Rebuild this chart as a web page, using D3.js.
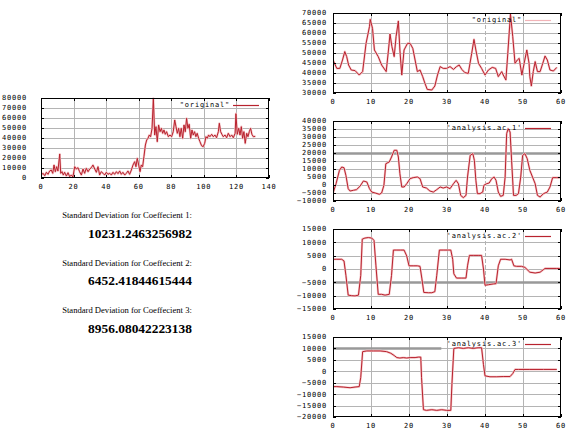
<!DOCTYPE html>
<html>
<head>
<meta charset="utf-8">
<script src="https://cdn.jsdelivr.net/npm/d3@7/dist/d3.min.js"></script>
<style>
  html, body { margin: 0; padding: 0; background: #fff; }
  svg { display: block; }
  .lbl { font-family: "DejaVu Sans Mono", "Liberation Mono", monospace; font-size: 7px; letter-spacing: 0.8px; fill: #000; }
  .sd-label { font-family: "Liberation Serif", "Times New Roman", serif; font-size: 8.6px; fill: #000; }
  .sd-value { font-family: "Liberation Serif", "Times New Roman", serif; font-size: 13.4px; font-weight: bold; fill: #000; }
</style>
</head>
<body>
<svg id="chart" width="566" height="430"></svg>
<script>
// ---- full series ("original", left) ----
const originalX = [0.2, 1.2, 2.3, 3.3, 4.3, 5.3, 6.3, 7.2, 8, 8.8, 9.6, 10.4, 11.5, 12.1, 12.9, 13.7, 14.5, 15.6, 16.6, 17.6,
  18.6, 19.6, 20.7, 21.7, 22.7, 23.7, 24.8, 25.8, 26.8, 27.8, 28.9, 29.9, 30.9, 31.9, 33, 34, 35, 36, 37, 38.1,
  39.1, 40.1, 41.1, 42.2, 43.2, 44.2, 45.2, 46.3, 47.3, 48.3, 49.3, 50.3, 51.4, 52.4, 53.4, 54.4, 55.5, 56.5, 57.5, 58.3,
  59.1, 60, 60.8, 61.6, 62.4, 63.2, 64.1, 64.9, 65.7, 66.5, 67.3, 68.2, 69, 69.8, 70.6, 71.4, 72.2, 73.1, 73.9, 74.7,
  75.5, 76.3, 77.1, 78.2, 79.2, 80.2, 81.2, 82.1, 82.9, 83.7, 84.5, 85.3, 86.1, 87, 87.8, 88.6, 89.4, 90.2, 91, 91.9,
  92.7, 93.5, 94.3, 95.1, 95.9, 96.8, 97.6, 98.6, 99.6, 100.5, 101.3, 102.1, 102.9, 103.7, 104.8, 105.8, 106.8, 107.8, 108.9, 109.5,
  110.3, 111.1, 111.9, 113, 114, 115, 116.1, 117.1, 118.1, 119.2, 119.7, 120.5, 121.4, 122.2, 123, 123.8, 124.6, 125.4, 126.3, 127.1,
  127.9, 128.7, 129.5, 130.4, 131.6];
const originalY = [3000, 4700, 2300, 5700, 3700, 7000, 8000, 4700, 13000, 6300, 11300, 7000, 24000, 4700, 6300, 3000, 5700, 2000, 5300, 1300,
  3000, 1000, 11300, 9000, 10300, 6300, 3000, 9000, 4700, 9700, 6300, 9000, 10300, 13000, 9000, 5700, 11300, 3000, 6300, 4700,
  3000, 5700, 3700, 4700, 3000, 5700, 3700, 6300, 4300, 7000, 3700, 5700, 3000, 4700, 7000, 3700, 8000, 13000, 16300, 11300,
  19700, 13000, 6300, 13000, 11300, 21300, 33000, 38000, 39700, 43000, 41300, 49700, 79700, 43000, 51300, 36300, 53000, 46300, 49700, 44700,
  48000, 43700, 46300, 41300, 43000, 41300, 46300, 58000, 51300, 44700, 49700, 41300, 49700, 39700, 53000, 46300, 59700, 49700, 53700, 39700,
  48000, 43000, 46300, 41300, 44700, 39700, 36300, 32300, 31300, 34700, 41300, 39700, 43000, 41300, 43700, 41300, 43000, 40300, 46300, 54700,
  46300, 43700, 41300, 43000, 40300, 44700, 41300, 43000, 40300, 44700, 64300, 43700, 49700, 43000, 51300, 39700, 46300, 34700, 44700, 41300,
  46300, 49700, 43700, 41300, 41700];

// ---- 60-sample window ("original", right top) ----
const windowX = [0, 1, 1.8, 2.5, 3.1, 3.6, 4.1, 4.8, 5.8, 6.9, 7.8, 8.7, 9.6, 9.8, 10.4, 10.9, 11.9, 12.8, 14, 14.6,
  15, 15.5, 16.1, 16.6, 17.2, 17.6, 18.1, 18.7, 19.6, 20.3, 21, 21.6, 22.2, 22.9, 23.6, 24.2, 24.8, 26, 26.8, 27.5,
  28.2, 29, 29.9, 30.8, 31.7, 32.5, 33.2, 33.9, 34.7, 35.6, 36.5, 37.1, 37.6, 38.3, 39.1, 40, 40.9, 41.9, 42.8, 43.5,
  44.4, 44.8, 45.5, 46, 46.7, 47.3, 47.9, 48.5, 49, 49.7, 50.3, 51, 51.6, 51.8, 52.2, 52.7, 53.2, 53.8, 54.5, 55.2,
  55.8, 56.4, 57.1, 58, 58.9];
const windowY = [46500, 42300, 42300, 46500, 50700, 48200, 44000, 41500, 41200, 39000, 40700, 54800, 63200, 66800, 62300, 51500, 48200, 44000, 40700, 51500,
  59500, 53200, 48200, 58200, 66000, 51500, 39000, 51500, 54800, 54800, 52300, 46500, 40700, 41500, 38200, 34800, 31800, 31500, 33500, 39000,
  43200, 42300, 42300, 43200, 41800, 43200, 44000, 41800, 40200, 39800, 49800, 56800, 51500, 44800, 42300, 39000, 41500, 42800, 42300, 38200,
  40700, 39000, 36500, 49800, 69500, 58200, 44800, 46500, 47300, 39000, 44800, 51500, 44800, 38200, 33500, 40700, 45700, 40700, 40700, 44800,
  48500, 46500, 41500, 41000, 42800];

// ---- analysis coefficient 1 ----
const ac1X = [0, 0.8, 1.7, 2.3, 2.9, 3.4, 4, 4.5, 5.4, 6.2, 7.1, 8, 8.9, 9.6, 10.2, 11.1, 12.2, 12.8, 13.4, 13.9,
  14.8, 15.4, 16.1, 16.8, 17.2, 17.6, 18.1, 18.7, 19.4, 20.3, 21.1, 22.2, 22.9, 23.6, 24.6, 25.5, 26.4, 27.3, 28.2, 29,
  29.9, 30.8, 31.7, 32.4, 33, 33.6, 34.3, 35, 35.4, 36.1, 36.8, 37.2, 37.6, 38, 38.7, 39.4, 39.7, 40.4, 41.1, 41.8,
  42.4, 42.9, 43.5, 44.1, 44.8, 45.3, 45.7, 46.1, 46.6, 47, 47.5, 48.2, 48.8, 49.4, 49.9, 50.5, 51.1, 51.8, 52.5, 53.2,
  53.8, 54.5, 55.4, 56.4, 57.1, 57.8, 58.9, 59.7];
const ac1Y = [-5200, 800, 9200, 11250, 10800, 6000, -2300, -3750, -3300, -2900, -800, 2500, 1900, -2300, -4400, -5000, -5800, -5000, -200, 13300,
  14400, 17500, 21700, 21700, 17500, 7100, -1250, -1250, 800, 4000, 4600, 5000, 4000, -1250, -1900, -3750, -4400, -2900, -1250, -1900,
  -1250, -2300, 800, 2900, 800, -6500, -7900, -6500, 5000, 18500, 19600, 15400, 2900, -5400, -5400, -4400, -200, 800, 1250, 4000,
  5000, 2900, -4400, -7100, -6500, 5000, 32100, 35200, 33100, 15400, -6500, -6500, -5400, 5000, 18500, 19600, 16500, 9200, 5000, 800,
  -6500, -7500, -5400, -4400, -1250, 4600, 4600, 4600];

// ---- analysis coefficient 2 ----
const ac2X = [0, 1, 2.3, 2.9, 3.4, 4, 4.9, 5.8, 6.7, 7.3, 7.7, 8.4, 9.3, 10.2, 10.8, 11.3, 11.9, 12.8, 13.7, 14.8,
  15.4, 15.9, 16.8, 17.8, 18.7, 19.4, 20, 21.1, 22.2, 22.9, 23.4, 23.9, 25.1, 26, 26.8, 27.3, 28, 29, 30.4, 31,
  31.5, 31.8, 32.5, 33.9, 35, 35.4, 35.9, 36.9, 38.2, 39.1, 39.6, 40, 40.9, 42.2, 42.9, 43.5, 44.1, 45.3, 46.6, 47,
  47.6, 48.3, 49.6, 50.5, 51.8, 53.2, 54.5, 55.4, 55.8, 57.1, 58.9, 59.7];
const ac2Y = [3650, 3650, 3650, 3000, -2400, -9800, -10000, -10100, -9800, -2400, 11200, 11600, 11800, 11600, 10700, 1200, -9500, -9500, -9800, -9500,
  -2400, 7100, 7100, 7100, 7100, 4900, 1200, 1200, 1200, 1000, -3700, -8800, -8900, -8900, -8500, -2400, 7100, 7100, 7100, 7100,
  3650, -1800, -3400, -3400, -3400, 1200, 5100, 5100, 5100, 5100, 0, -6100, -5900, -5600, -5500, 1200, 3650, 3650, 3400, 3650,
  1200, 1000, 1000, 600, -1200, -1500, -1200, -200, 200, 200, 200, 200];

// ---- analysis coefficient 3 ----
const ac3X = [0, 1, 2.7, 4.5, 5.8, 6.9, 7.3, 7.8, 8.9, 10.6, 12.4, 14.1, 15.2, 16.1, 16.8, 17.6, 18.5, 19.4, 20.3, 21.6,
  22.5, 23.1, 23.3, 23.8, 24.6, 26, 27.3, 28.6, 29.9, 31, 31.3, 31.8, 33, 34.3, 35.6, 36.9, 38.2, 39.1, 39.6, 40,
  41.3, 43.1, 44.8, 46.6, 47.3, 47.9, 48.8, 51.8, 55.4, 58.9];
const ac3Y = [-6700, -6700, -6900, -7200, -6900, -6700, -2700, 8600, 8900, 8900, 8900, 8600, 7900, 6900, 6000, 5800, 6000, 5800, 6000, 6000,
  6200, 6200, -2700, -16800, -17100, -16800, -17100, -16800, -17100, -17100, -5500, 10000, 10300, 10000, 10300, 10000, 10300, 10300, 2900, -2000,
  -2400, -2400, -2300, -2300, -1000, 800, 800, 800, 800, 800];

// ---- tick values ----
const leftXTicks = [0, 20, 40, 60, 80, 100, 120, 140];
const leftYTicks = [0, 10000, 20000, 30000, 40000, 50000, 60000, 70000, 80000];
const rightXTicks = [0, 10, 20, 30, 40, 50, 60];
const windowYTicks = [30000, 35000, 40000, 45000, 50000, 55000, 60000, 65000, 70000];
const ac1YTicks = [-10000, -5000, 0, 5000, 10000, 15000, 20000, 25000, 30000, 35000, 40000];
const ac2YTicks = [-15000, -10000, -5000, 0, 5000, 10000, 15000];
const ac3YTicks = [-20000, -15000, -10000, -5000, 0, 5000, 10000, 15000];

// ---- legend titles and summary text ----
const legendTitles = ['"original"', '"original"', "'analysis.ac.1'", "'analysis.ac.2'", "'analysis.ac.3'"];
const sdLabels = ["Standard Deviation for Coeffecient 1:", "Standard Deviation for Coeffecient 2:", "Standard Deviation for Coeffecient 3:"];
const sdValues = ["10231.2463256982", "6452.41844615444", "8956.08042223138"];

const svg = d3.select("#chart");
const LINE = "#b8222e";
const HALO = "#f4c4c6";
const GRID = "#b4b4b4";

function drawPanel(p) {
  const x = d3.scaleLinear().domain([p.xTicks[0], p.xTicks[p.xTicks.length - 1]]).range([p.left, p.left + p.width]);
  const y = d3.scaleLinear().domain([p.yTicks[0], p.yTicks[p.yTicks.length - 1]]).range([p.top + p.height, p.top]);
  const g = svg.append("g");
  const bottom = p.top + p.height, right = p.left + p.width;

  // grid
  g.append("g").selectAll("line").data(p.yTicks.slice(1, -1)).join("line")
    .attr("x1", p.left).attr("x2", right)
    .attr("y1", d => Math.round(y(d)) + 0.5).attr("y2", d => Math.round(y(d)) + 0.5)
    .attr("stroke", GRID).attr("stroke-width", 1);
  g.append("g").selectAll("line").data(p.xTicks.slice(1, -1)).join("line")
    .attr("y1", p.top).attr("y2", bottom)
    .attr("x1", d => Math.round(x(d)) + 0.5).attr("x2", d => Math.round(x(d)) + 0.5)
    .attr("stroke", GRID).attr("stroke-width", 1)
    .attr("stroke-dasharray", d => (p.dashedX === d ? "4,2" : null));

  if (p.strong) {
    const s = p.strong;
    g.append("line")
      .attr("x1", x(s.from)).attr("x2", x(s.to))
      .attr("y1", Math.round(y(s.value)) + 0.5).attr("y2", Math.round(y(s.value)) + 0.5)
      .attr("stroke", "#999").attr("stroke-width", 2.5);
  }

  // series: soft halo under a thin dark-red trace
  const clipId = "clip" + p.id;
  svg.append("clipPath").attr("id", clipId).append("rect")
    .attr("x", p.left).attr("y", p.top - 1).attr("width", p.width).attr("height", p.height + 2);
  const line = d3.line().x((d, i) => x(p.xs[i])).y(d => y(d));
  g.append("path").datum(p.ys).attr("clip-path", `url(#${clipId})`)
    .attr("d", line).attr("fill", "none")
    .attr("stroke", HALO).attr("stroke-width", 2.2).attr("stroke-linejoin", "round");
  g.append("path").datum(p.ys).attr("clip-path", `url(#${clipId})`)
    .attr("d", line).attr("fill", "none")
    .attr("stroke", LINE).attr("stroke-width", 1).attr("stroke-linejoin", "round");

  // border with inward ticks on all sides
  g.append("rect").attr("x", p.left + 0.5).attr("y", p.top + 0.5)
    .attr("width", p.width - 1).attr("height", p.height - 1)
    .attr("fill", "none").attr("stroke", "#000").attr("stroke-width", 1);
  const tk = g.append("g").attr("stroke", "#000").attr("stroke-width", 1);
  p.yTicks.forEach(v => {
    const yy = Math.round(y(v)) + 0.5;
    tk.append("line").attr("x1", p.left).attr("x2", p.left + 3).attr("y1", yy).attr("y2", yy);
    tk.append("line").attr("x1", right - 3).attr("x2", right).attr("y1", yy).attr("y2", yy);
  });
  p.xTicks.forEach(v => {
    const xx = Math.round(x(v)) + 0.5;
    tk.append("line").attr("y1", bottom).attr("y2", bottom - 3).attr("x1", xx).attr("x2", xx);
    tk.append("line").attr("y1", p.top).attr("y2", p.top + 3).attr("x1", xx).attr("x2", xx);
  });

  // tick labels
  g.append("g").selectAll("text").data(p.yTicks).join("text")
    .attr("class", "lbl").attr("text-anchor", "end")
    .attr("x", p.left - p.yGap).attr("y", d => y(d)).attr("dy", "0.35em")
    .text(d => d3.format("d")(d));
  g.append("g").selectAll("text").data(p.xTicks).join("text")
    .attr("class", "lbl").attr("text-anchor", "middle")
    .attr("x", d => x(d)).attr("y", bottom + 10.5)
    .text(d => d3.format("d")(d));

  // legend
  g.append("text").attr("class", "lbl").attr("text-anchor", "end")
    .attr("x", right - 39).attr("y", p.top + 7).attr("dy", "0.35em").text(p.title);
  g.append("line").attr("x1", right - 36).attr("x2", right - 10)
    .attr("y1", p.top + 7.5).attr("y2", p.top + 7.5)
    .attr("stroke", p.legendColor || LINE).attr("stroke-width", 1.2);
}

drawPanel({ id: 0, left: 41, top: 98, width: 228, height: 80, xTicks: leftXTicks, yTicks: leftYTicks,
  xs: originalX, ys: originalY, yGap: 14, title: legendTitles[0] });
drawPanel({ id: 1, left: 333, top: 13, width: 228, height: 80, xTicks: rightXTicks, yTicks: windowYTicks,
  xs: windowX, ys: windowY, yGap: 6, title: legendTitles[1], dashedX: 40, legendColor: "#f2b4b8" });
drawPanel({ id: 2, left: 333, top: 121, width: 228, height: 80, xTicks: rightXTicks, yTicks: ac1YTicks,
  xs: ac1X, ys: ac1Y, yGap: 6, title: legendTitles[2], dashedX: 40, strong: { value: 20000, from: 0, to: 60 } });
drawPanel({ id: 3, left: 333, top: 229, width: 228, height: 80, xTicks: rightXTicks, yTicks: ac2YTicks,
  xs: ac2X, ys: ac2Y, yGap: 6, title: legendTitles[3], dashedX: 40, strong: { value: -5000, from: 0, to: 60 } });
drawPanel({ id: 4, left: 333, top: 337, width: 228, height: 80, xTicks: rightXTicks, yTicks: ac3YTicks,
  xs: ac3X, ys: ac3Y, yGap: 6, title: legendTitles[4], strong: { value: 10000, from: 0, to: 28.5 } });

// standard deviation summary
const sd = svg.append("g");
sdLabels.forEach((t, i) => {
  sd.append("text").attr("class", "sd-label").attr("text-anchor", "middle")
    .attr("x", 127).attr("y", 218 + i * 47.5).text(t);
  sd.append("text").attr("class", "sd-value").attr("text-anchor", "middle")
    .attr("x", 140).attr("y", 237.5 + i * 47.5).text(sdValues[i]);
});
</script>
</body>
</html>
